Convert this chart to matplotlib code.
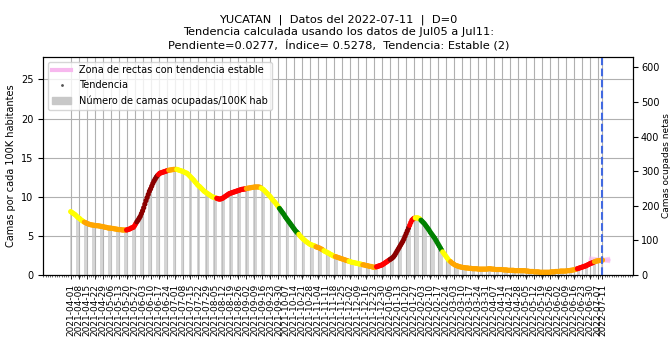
import numpy as np
import pandas as pd
import matplotlib
matplotlib.use('Agg')
import matplotlib.pyplot as plt
import matplotlib.dates as mdates
from matplotlib.lines import Line2D
from matplotlib.patches import Patch

estado = 'YUCATAN'
fecha_datos = '2022-07-11'
fecha_inicio = '2021-04-01'
pob_100k = 22.6  # habitantes/100K

# camas ocupadas por cada 100K habitantes, una fila por semana
camas = [
    8.1, 8.0, 7.9, 7.8, 7.7, 7.55, 7.4,
    7.3, 7.2, 7.05, 6.95, 6.85, 6.75, 6.7,
    6.6, 6.55, 6.5, 6.45, 6.4, 6.4, 6.35,
    6.35, 6.3, 6.3, 6.3, 6.25, 6.25, 6.2,
    6.2, 6.15, 6.1, 6.1, 6.05, 6.0, 6.0,
    6.0, 5.95, 5.95, 5.9, 5.9, 5.85, 5.85,
    5.8, 5.8, 5.8, 5.75, 5.75, 5.75, 5.75,
    5.75, 5.8, 5.85, 5.9, 6.0, 6.05, 6.1,
    6.3, 6.55, 6.8, 7.0, 7.25, 7.5, 7.85,
    8.2, 8.6, 9.05, 9.5, 9.9, 10.3, 10.7,
    11.0, 11.35, 11.7, 12.0, 12.25, 12.5, 12.7,
    12.85, 13.0, 13.05, 13.1, 13.15, 13.2, 13.25,
    13.3, 13.35, 13.4, 13.4, 13.45, 13.45, 13.5,
    13.5, 13.5, 13.5, 13.45, 13.4, 13.35, 13.3,
    13.25, 13.2, 13.1, 13.05, 13.0, 12.85, 12.7,
    12.55, 12.4, 12.25, 12.1, 11.9, 11.75, 11.55,
    11.4, 11.3, 11.15, 11.0, 10.85, 10.7, 10.6,
    10.5, 10.4, 10.3, 10.2, 10.1, 10.0, 9.95,
    9.9, 9.85, 9.8, 9.75, 9.7, 9.7, 9.75,
    9.8, 9.9, 10.0, 10.1, 10.2, 10.3, 10.4,
    10.45, 10.5, 10.55, 10.6, 10.65, 10.7, 10.75,
    10.8, 10.85, 10.9, 10.95, 10.95, 11.0, 11.0,
    11.05, 11.1, 11.1, 11.15, 11.15, 11.2, 11.2,
    11.25, 11.25, 11.25, 11.25, 11.25, 11.2, 11.1,
    11.0, 10.9, 10.75, 10.6, 10.45, 10.3, 10.15,
    10.0, 9.8, 9.6, 9.45, 9.3, 9.1, 8.9,
    8.7, 8.5, 8.3, 8.1, 7.9, 7.7, 7.45,
    7.25, 7.05, 6.85, 6.65, 6.45, 6.25, 6.05,
    5.85, 5.65, 5.5, 5.35, 5.2, 5.0, 4.85,
    4.7, 4.55, 4.45, 4.3, 4.2, 4.1, 4.0,
    3.9, 3.85, 3.8, 3.75, 3.7, 3.6, 3.55,
    3.5, 3.45, 3.35, 3.3, 3.2, 3.1, 3.0,
    2.95, 2.85, 2.8, 2.7, 2.6, 2.55, 2.45,
    2.4, 2.35, 2.3, 2.25, 2.2, 2.15, 2.1,
    2.05, 2.0, 1.95, 1.9, 1.85, 1.8, 1.75,
    1.7, 1.65, 1.6, 1.6, 1.55, 1.5, 1.5,
    1.45, 1.4, 1.4, 1.35, 1.3, 1.3, 1.25,
    1.2, 1.2, 1.15, 1.1, 1.1, 1.05, 1.0,
    1.0, 1.0, 1.05, 1.1, 1.15, 1.2, 1.25,
    1.3, 1.4, 1.5, 1.6, 1.7, 1.8, 1.9,
    2.0, 2.1, 2.2, 2.35, 2.55, 2.8, 3.05,
    3.3, 3.55, 3.8, 4.05, 4.3, 4.6, 4.95,
    5.3, 5.65, 6.0, 6.35, 6.7, 7.0, 7.15,
    7.25, 7.3, 7.3, 7.3, 7.25, 7.15, 7.0,
    6.85, 6.7, 6.55, 6.35, 6.15, 5.95, 5.75,
    5.5, 5.3, 5.1, 4.9, 4.7, 4.45, 4.2,
    3.95, 3.7, 3.45, 3.2, 2.95, 2.75, 2.55,
    2.35, 2.15, 1.95, 1.8, 1.7, 1.55, 1.45,
    1.35, 1.25, 1.2, 1.15, 1.1, 1.05, 1.0,
    1.0, 0.95, 0.95, 0.9, 0.9, 0.9, 0.85,
    0.85, 0.85, 0.8, 0.8, 0.8, 0.8, 0.8,
    0.75, 0.75, 0.75, 0.75, 0.75, 0.75, 0.75,
    0.75, 0.75, 0.8, 0.8, 0.8, 0.75, 0.75,
    0.75, 0.7, 0.7, 0.7, 0.7, 0.7, 0.7,
    0.7, 0.65, 0.65, 0.65, 0.65, 0.6, 0.6,
    0.6, 0.6, 0.6, 0.6, 0.55, 0.55, 0.55,
    0.55, 0.55, 0.55, 0.55, 0.55, 0.55, 0.55,
    0.5, 0.5, 0.5, 0.45, 0.45, 0.45, 0.45,
    0.4, 0.4, 0.4, 0.4, 0.4, 0.35, 0.35,
    0.35, 0.35, 0.35, 0.35, 0.35, 0.35, 0.35,
    0.35, 0.4, 0.4, 0.4, 0.4, 0.45, 0.45,
    0.45, 0.45, 0.5, 0.5, 0.5, 0.5, 0.5,
    0.5, 0.55, 0.55, 0.55, 0.6, 0.6, 0.65,
    0.65, 0.7, 0.75, 0.8, 0.85, 0.9, 0.95,
    1.0, 1.05, 1.1, 1.15, 1.2, 1.3, 1.35,
    1.45, 1.5, 1.55, 1.6, 1.7, 1.75, 1.8,
    1.8, 1.85, 1.85, 1.9, 1.9,
]

# tramos de tendencia: fecha de inicio y codigo de color
tramo_inicio = ['2021-04-01', '2021-04-13', '2021-05-20', '2021-05-29', '2021-06-17',
                '2021-06-26', '2021-07-03', '2021-08-07', '2021-09-02', '2021-09-15',
                '2021-10-01', '2021-10-18', '2021-11-02', '2021-11-09', '2021-11-19',
                '2021-12-01', '2021-12-13', '2021-12-25', '2022-01-06', '2022-01-23',
                '2022-01-28', '2022-02-02', '2022-02-21', '2022-02-28', '2022-06-19',
                '2022-07-04']
tramo_codigo = [2, 3, 4, 5, 4, 3, 2, 4, 3, 2,
                1, 2, 3, 2, 3, 2, 3, 4, 5, 4,
                2, 1, 2, 3, 4, 3]
colores = {1: 'green', 2: 'yellow', 3: 'orange', 4: 'red', 5: 'darkred'}

# rectas con pendiente estable sobre los ultimos dias
recta_x0 = '2022-07-01'
recta_x1 = '2022-07-16'
recta_pendientes = [-0.02, 0.0, 0.0277]

fechas = pd.date_range(fecha_inicio, periods=len(camas), freq='D')
camas = np.array(camas)

codigos = np.zeros(len(fechas), dtype=int)
for ini, cod in zip(tramo_inicio, tramo_codigo):
    codigos[fechas >= pd.Timestamp(ini)] = cod
col_puntos = [colores[c] for c in codigos]

fig, ax = plt.subplots(figsize=(6.71, 3.39), dpi=100)
fig.subplots_adjust(left=0.0645, right=0.9438, top=0.8327, bottom=0.1888)

ax.bar(fechas, camas, width=0.45, color='#c4c4c4', alpha=0.7, zorder=1)
ax.scatter(fechas, camas, c=col_puntos, s=14, linewidths=0, zorder=3)

# zona de rectas estables
x0 = pd.Timestamp(recta_x0)
x1 = pd.Timestamp(recta_x1)
xf = pd.Timestamp(fecha_datos)
yf = camas[-1]
for m in recta_pendientes:
    ya = yf + m * (x0 - xf).days
    yb = yf + m * (x1 - xf).days
    ax.plot([x0, x1], [ya, yb], color='#f7b8ee', lw=3, alpha=0.6, zorder=2)

ax.axvline(xf, color='royalblue', ls='--', lw=1.5, zorder=4)

ticks = list(pd.date_range(fecha_inicio, fecha_datos, freq='7D')) + [xf]
ax.set_xticks(ticks)
ax.set_xticklabels([t.strftime('%Y-%m-%d') for t in ticks], rotation=90, fontsize=6.5)
ax.xaxis.set_minor_locator(mdates.DayLocator(interval=2))
ax.tick_params(axis='x', which='minor', length=1.5, width=0.4)
ax.tick_params(axis='x', which='major', length=3, width=0.6)
ax.set_xlim(pd.Timestamp('2021-03-08'), pd.Timestamp('2022-08-07'))
ax.set_ylim(0, 27.9)
ax.tick_params(axis='y', labelsize=7)
ax.set_ylabel('Camas por cada 100K habitantes', fontsize=7)
ax.grid(True, color='#b0b0b0', lw=0.8)
ax.set_axisbelow(True)

ax2 = ax.twinx()
ax2.set_ylim(0, 27.9 * pob_100k)
ax2.tick_params(axis='y', labelsize=7, pad=2)
ax2.set_ylabel('Camas ocupadas netas', fontsize=6.5, labelpad=2)

handles = [Line2D([], [], color='#f7b8ee', lw=3),
           Line2D([], [], marker='.', color='#555555', ls='', markersize=2),
           Patch(color='#c8c8c8')]
labels = ['Zona de rectas con tendencia estable', 'Tendencia',
          'Número de camas ocupadas/100K hab']
ax.legend(handles, labels, loc='upper left', fontsize=7)

ax.set_title(estado + '  |  Datos del ' + fecha_datos + '  |  D=0\n'
             'Tendencia calculada usando los datos de Jul05 a Jul11:\n'
             'Pendiente=0.0277,  Índice= 0.5278,  Tendencia: Estable (2)',
             fontsize=8.2)

plt.savefig('out.png', dpi=100)
